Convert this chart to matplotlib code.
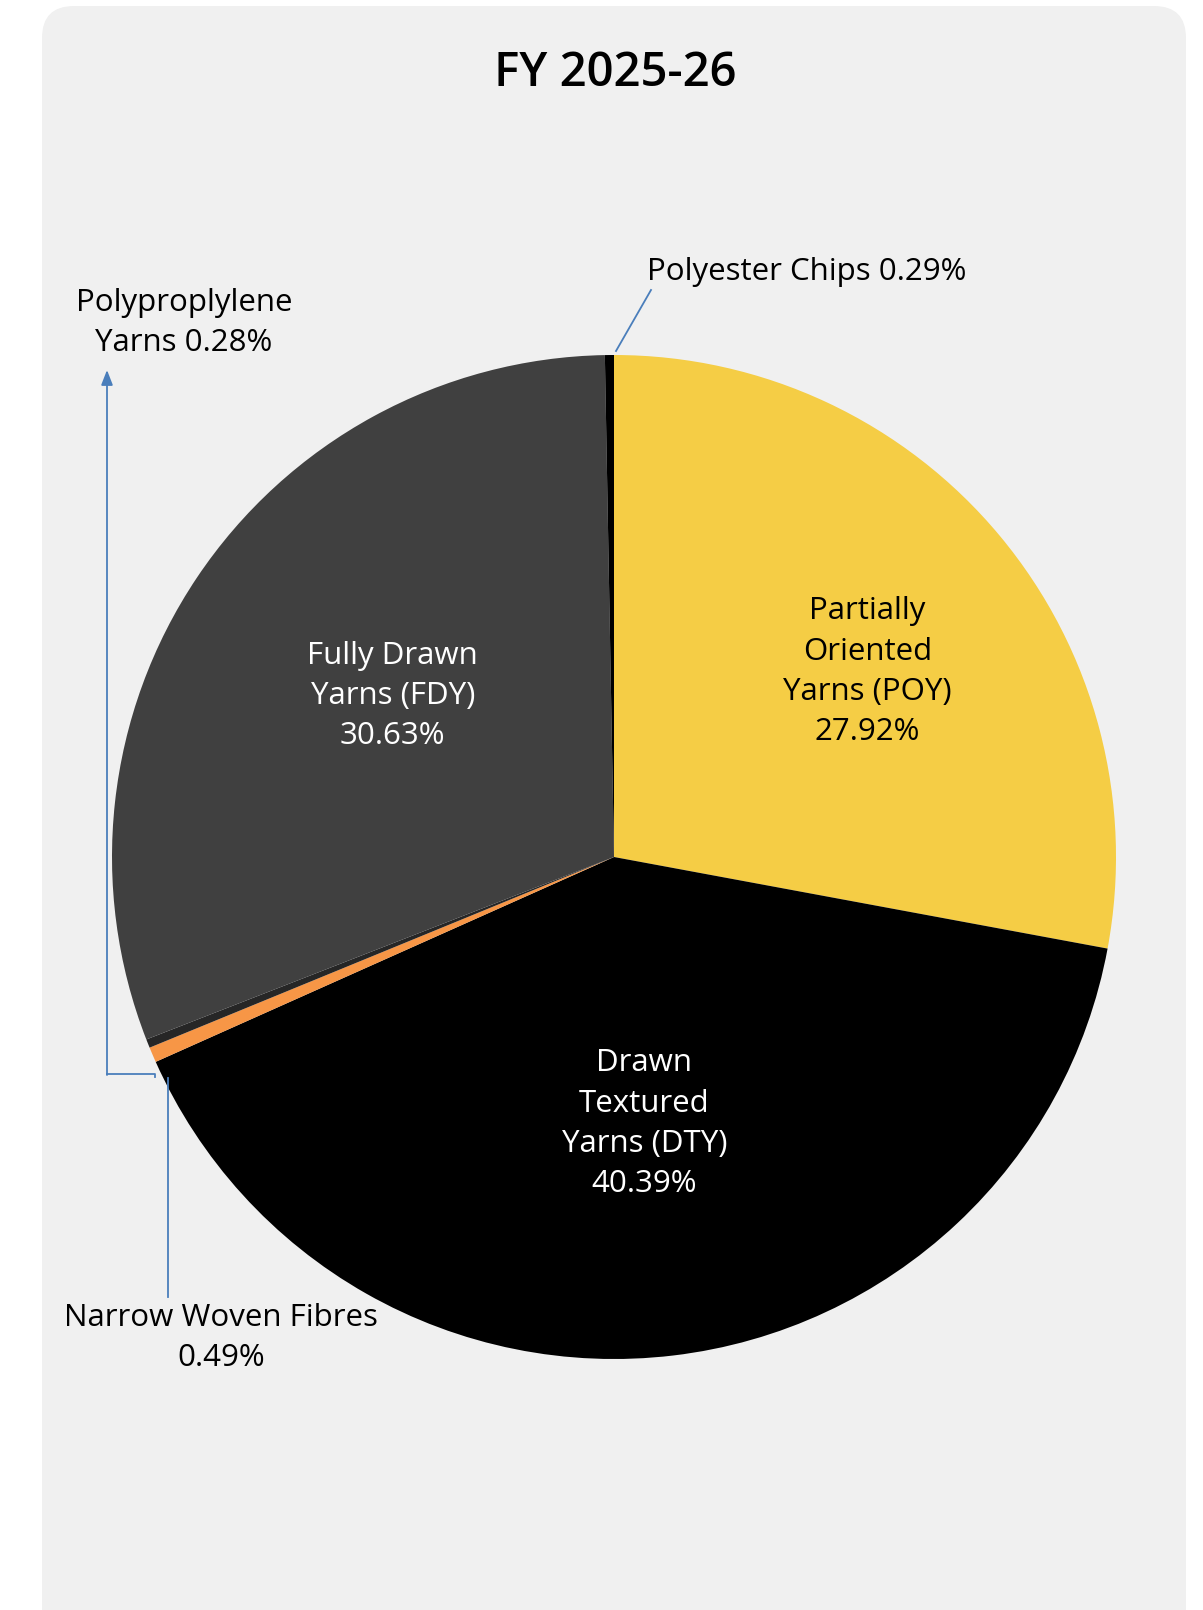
import matplotlib.pyplot as plt
from matplotlib.patches import FancyBboxPatch
import numpy as np

# data (clockwise from 12 o'clock)
segments = ["Partially\nOriented\nYarns (POY)", "Drawn\nTextured\nYarns (DTY)",
            "Narrow Woven Fibres", "Polyproplylene\nYarns", "Fully Drawn\nYarns (FDY)",
            "Polyester Chips"]
shares = [27.92, 40.39, 0.49, 0.28, 30.63, 0.29]
colors = ["#F5CD45", "#000000", "#F79646", "#262626", "#404040", "#000000"]
title = "FY 2025-26"

plt.rcParams['font.family'] = ['Open Sans', 'DejaVu Sans']

W, H = 1203, 1610
fig = plt.figure(figsize=(W / 100, H / 100), dpi=100)
fig.patch.set_facecolor("white")
ax = fig.add_axes([0, 0, 1, 1])

def py(y):
    # pixel row (top-down) -> data y
    return H - y

# rounded grey panel
panel = FancyBboxPatch((42, py(1640)), 1186 - 42, 1640 - 6,
                       boxstyle="round,pad=0,rounding_size=32",
                       facecolor="#F0F0F0", edgecolor="none", zorder=0)
ax.add_patch(panel)

cx, cy, R = 614, py(857), 502
wedges, _ = ax.pie(shares, colors=colors, startangle=90, counterclock=False,
                   center=(cx, cy), radius=R, frame=True,
                   wedgeprops=dict(linewidth=0))
ax.set_xlim(0, W)
ax.set_ylim(0, H)
ax.set_aspect("equal")
ax.axis("off")

ax.text(615, py(74), title, ha="center", va="center", fontsize=34,
        fontweight="semibold", color="black")

fs = 22.5
ls = 1.45
# labels inside the big slices
inside = {0: (0.625, "black"), 1: (0.535, "white"), 4: (0.545, "white")}
offsets = {0: -3.6, 1: -0.3, 4: -2.2}
for i, (dist, col) in inside.items():
    w = wedges[i]
    ang = np.deg2rad((w.theta1 + w.theta2) / 2 + offsets[i])
    x = cx + dist * R * np.cos(ang)
    y = cy + dist * R * np.sin(ang)
    ax.text(x, y, "%s\n%.2f%%" % (segments[i], shares[i]), ha="center",
            va="center", fontsize=fs, color=col, linespacing=ls)

line_col = "#4A7EBB"

# Polyester Chips
ax.text(647, py(272), "%s %.2f%%" % (segments[5], shares[5]), ha="left",
        va="center", fontsize=fs, color="black")
ax.plot([651, 616], [py(290), py(351)], color=line_col, lw=1.3)

# Polyproplylene
ax.text(184, py(323), "%s %.2f%%" % (segments[3], shares[3]), ha="center",
        va="center", fontsize=fs, color="black", linespacing=ls)
ax.plot([155, 155, 107], [py(1077), py(1074), py(1074)], color=line_col, lw=1.3)
ax.annotate("", xy=(107, py(370)), xytext=(107, py(1075)),
            arrowprops=dict(arrowstyle="-|>,head_length=0.9,head_width=0.35",
                            color=line_col, lw=1.3, shrinkA=0, shrinkB=0))

# Narrow Woven Fibres
ax.text(221, py(1338), "%s\n%.2f%%" % (segments[2], shares[2]), ha="center",
        va="center", fontsize=fs, color="black", linespacing=ls)
ax.plot([168, 168], [py(1078), py(1297)], color=line_col, lw=1.3)

fig.savefig("out.png", dpi=100, facecolor="white")
